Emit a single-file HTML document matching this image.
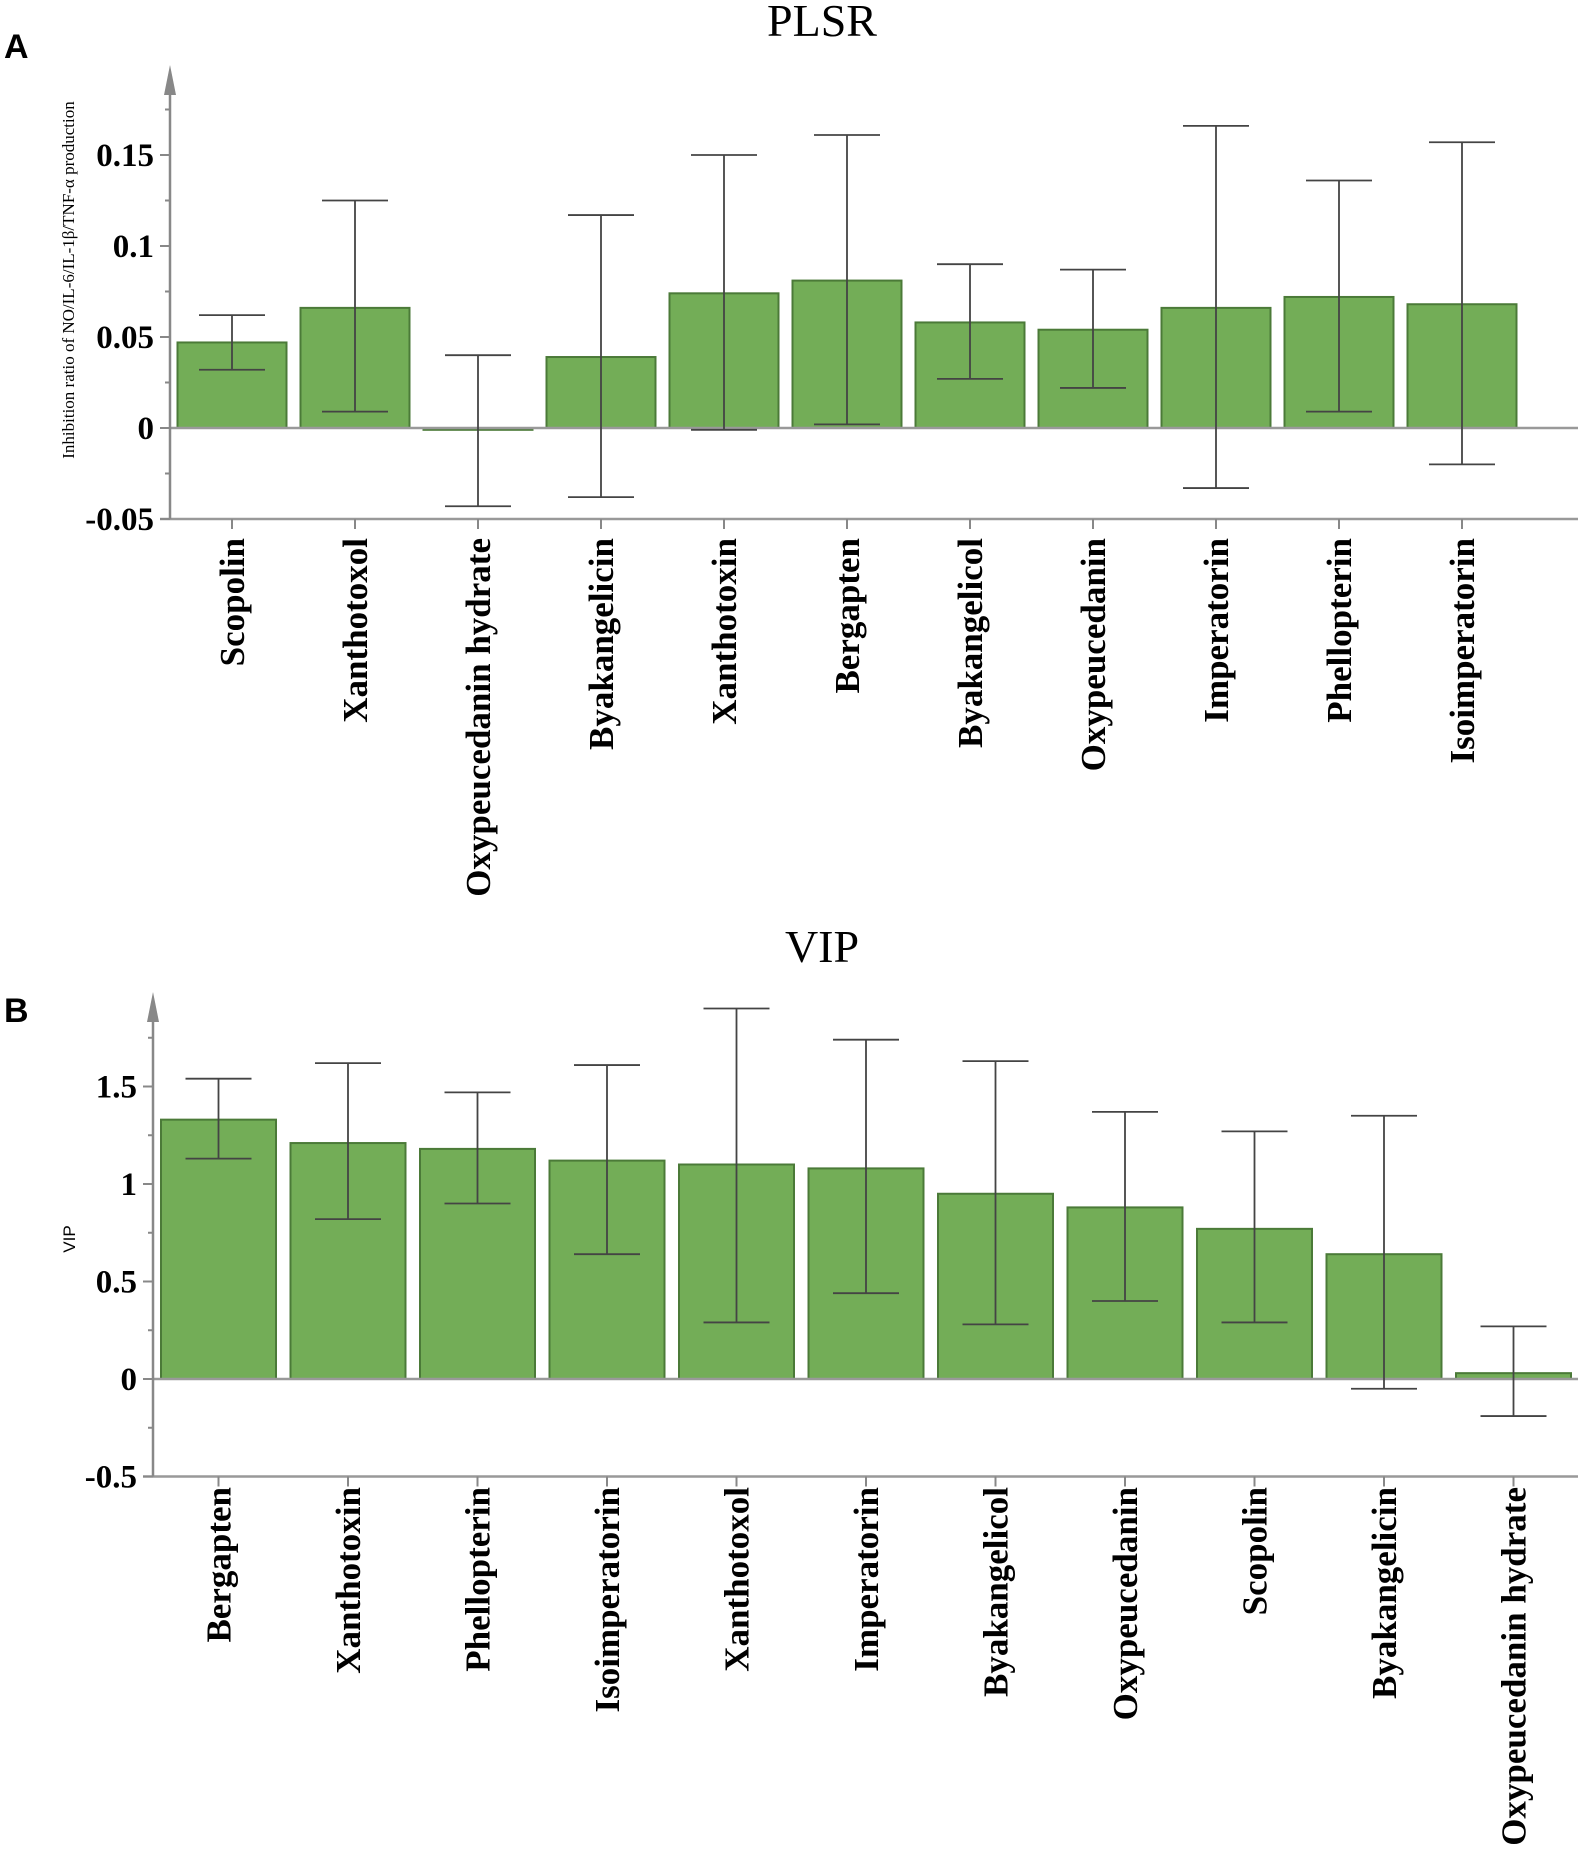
<!DOCTYPE html>
<html><head><meta charset="utf-8"><style>
html,body{margin:0;padding:0;background:#fff;}
svg{display:block;}
</style></head><body>
<svg id="chart" width="1584" height="1858" viewBox="0 0 1584 1858" xmlns="http://www.w3.org/2000/svg" font-family="Liberation Serif, serif"></svg>
<script>
const catsA=["Scopolin","Xanthotoxol","Oxypeucedanin hydrate","Byakangelicin","Xanthotoxin","Bergapten","Byakangelicol","Oxypeucedanin","Imperatorin","Phellopterin","Isoimperatorin"];
const valsA=[0.047,0.066,-0.001,0.039,0.074,0.081,0.058,0.054,0.066,0.072,0.068];
const lowA=[0.032,0.009,-0.043,-0.038,-0.001,0.002,0.027,0.022,-0.033,0.009,-0.020];
const highA=[0.062,0.125,0.040,0.117,0.150,0.161,0.090,0.087,0.166,0.136,0.157];
const ticksA=["-0.05","0","0.05","0.1","0.15"];
const tickValsA=[-0.05,0,0.05,0.1,0.15];
const catsB=["Bergapten","Xanthotoxin","Phellopterin","Isoimperatorin","Xanthotoxol","Imperatorin","Byakangelicol","Oxypeucedanin","Scopolin","Byakangelicin","Oxypeucedanin hydrate"];
const valsB=[1.33,1.21,1.18,1.12,1.10,1.08,0.95,0.88,0.77,0.64,0.03];
const lowB=[1.13,0.82,0.90,0.64,0.29,0.44,0.28,0.40,0.29,-0.05,-0.19];
const highB=[1.54,1.62,1.47,1.61,1.90,1.74,1.63,1.37,1.27,1.35,0.27];
const ticksB=["-0.5","0","0.5","1","1.5"];
const tickValsB=[-0.5,0,0.5,1,1.5];

const svg=document.getElementById('chart');
const NS="http://www.w3.org/2000/svg";
function mk(tag,attrs,name,text){
  const e=document.createElementNS(NS,tag);
  for(const k in attrs)e.setAttribute(k,attrs[k]);
  
  
  if(text!==undefined)e.textContent=text;
  svg.appendChild(e);return e;
}
function panel(o){
  const y=v=>o.y0-(v*o.pxPer);
  const x=i=>o.c0+i*o.pitch;
  mk('text',{x:o.titleX,y:o.titleY,'font-size':46,'text-anchor':'middle'},o.key+'-title',o.title);
  mk('text',{x:4,y:o.letterY,'font-size':34,'font-weight':'bold',style:'font-family:"Liberation Sans",sans-serif'},o.key+'-panel-letter',o.letter);
  mk('text',{x:0,y:0,'font-size':o.ylabSize,'text-anchor':'middle',transform:`translate(${o.ylabX},${o.ylabY}) rotate(-90)`,style:'font-family:'+o.ylabFont},o.key+'-y-axis-title',o.ylab);
  for(let i=0;i<o.vals.length;i++){
    const v=o.vals[i],top=Math.min(y(v),y(0)),h=Math.max(Math.abs(y(v)-y(0)),1.5);
    mk('rect',{x:x(i)-o.bw/2,y:top,width:o.bw,height:h,fill:'#73ad57',stroke:'#4b7a38','stroke-width':2},o.key+'-bar-'+i);
  }
  mk('line',{x1:o.ax,x2:o.axEnd,y1:y(0),y2:y(0),stroke:'#999','stroke-width':2.5},o.key+'-zero-line');
  mk('line',{x1:o.ax-10,x2:o.axEnd,y1:y(o.minV),y2:y(o.minV),stroke:'#999','stroke-width':2.5},o.key+'-x-axis');
  mk('line',{x1:o.ax,x2:o.ax,y1:y(o.minV),y2:o.arrowTop+25,stroke:'#888','stroke-width':2.5},o.key+'-y-axis');
  mk('polygon',{points:`${o.ax-6},${o.arrowTop+30} ${o.ax+6},${o.arrowTop+30} ${o.ax},${o.arrowTop}`,fill:'#888'},o.key+'-y-axis-arrow');
  for(let t=0;t<o.tickVals.length;t++){
    mk('line',{x1:o.ax-10,x2:o.ax,y1:y(o.tickVals[t]),y2:y(o.tickVals[t]),stroke:'#888','stroke-width':2},o.key+'-y-tick');
    mk('text',{x:o.ax-16,y:y(o.tickVals[t])+11,'font-size':33,'font-weight':'bold','text-anchor':'end'},o.key+'-y-tick-label',o.ticks[t]);
  }
  for(let k=0;k<o.minor.length;k++){
    mk('line',{x1:o.ax-5,x2:o.ax,y1:y(o.minor[k]),y2:y(o.minor[k]),stroke:'#888','stroke-width':2},o.key+'-y-minor-tick');
  }
  for(let i=0;i<o.vals.length;i++){
    const cx=x(i);
    mk('line',{x1:cx,x2:cx,y1:y(o.low[i]),y2:y(o.high[i]),stroke:'#444','stroke-width':1.8},o.key+'-error-bar-'+i);
    mk('line',{x1:cx-33,x2:cx+33,y1:y(o.high[i]),y2:y(o.high[i]),stroke:'#444','stroke-width':1.8},o.key+'-error-cap-high-'+i);
    mk('line',{x1:cx-33,x2:cx+33,y1:y(o.low[i]),y2:y(o.low[i]),stroke:'#444','stroke-width':1.8},o.key+'-error-cap-low-'+i);
  }
  for(let i=0;i<o.cats.length;i++){
    const cx=x(i);
    mk('line',{x1:cx,x2:cx,y1:y(o.minV),y2:y(o.minV)+10,stroke:'#888','stroke-width':2},o.key+'-x-tick');
    mk('text',{x:0,y:0,'font-size':35,'font-weight':'bold','text-anchor':'end',transform:`translate(${cx+12},${o.labTop}) rotate(-90)`},o.key+'-x-label-'+i,o.cats[i]);
  }
}
panel({key:'plsr',title:'PLSR',titleX:822,titleY:36,letter:'A',letterY:58,
  cats:catsA,vals:valsA,low:lowA,high:highA,ticks:ticksA,tickVals:tickValsA,
  minor:[-0.025,0.025,0.075,0.125,0.175],minV:-0.05,
  y0:428,pxPer:1820,c0:232,pitch:123,bw:109,ax:170,axEnd:1578,arrowTop:65,labTop:538,
  ylab:'Inhibition ratio of NO/IL-6/IL-1β/TNF-α production',ylabX:74,ylabY:280,ylabSize:17,ylabFont:'"Liberation Serif",serif'});
panel({key:'vip',title:'VIP',titleX:822,titleY:962,letter:'B',letterY:1022,
  cats:catsB,vals:valsB,low:lowB,high:highB,ticks:ticksB,tickVals:tickValsB,
  minor:[-0.25,0.25,0.75,1.25,1.75],minV:-0.5,
  y0:1379,pxPer:195,c0:218.5,pitch:129.5,bw:115,ax:153,axEnd:1578,arrowTop:992,labTop:1487,
  ylab:'VIP',ylabX:75,ylabY:1239,ylabSize:17,ylabFont:'"Liberation Sans",sans-serif'});
</script>
</body></html>
